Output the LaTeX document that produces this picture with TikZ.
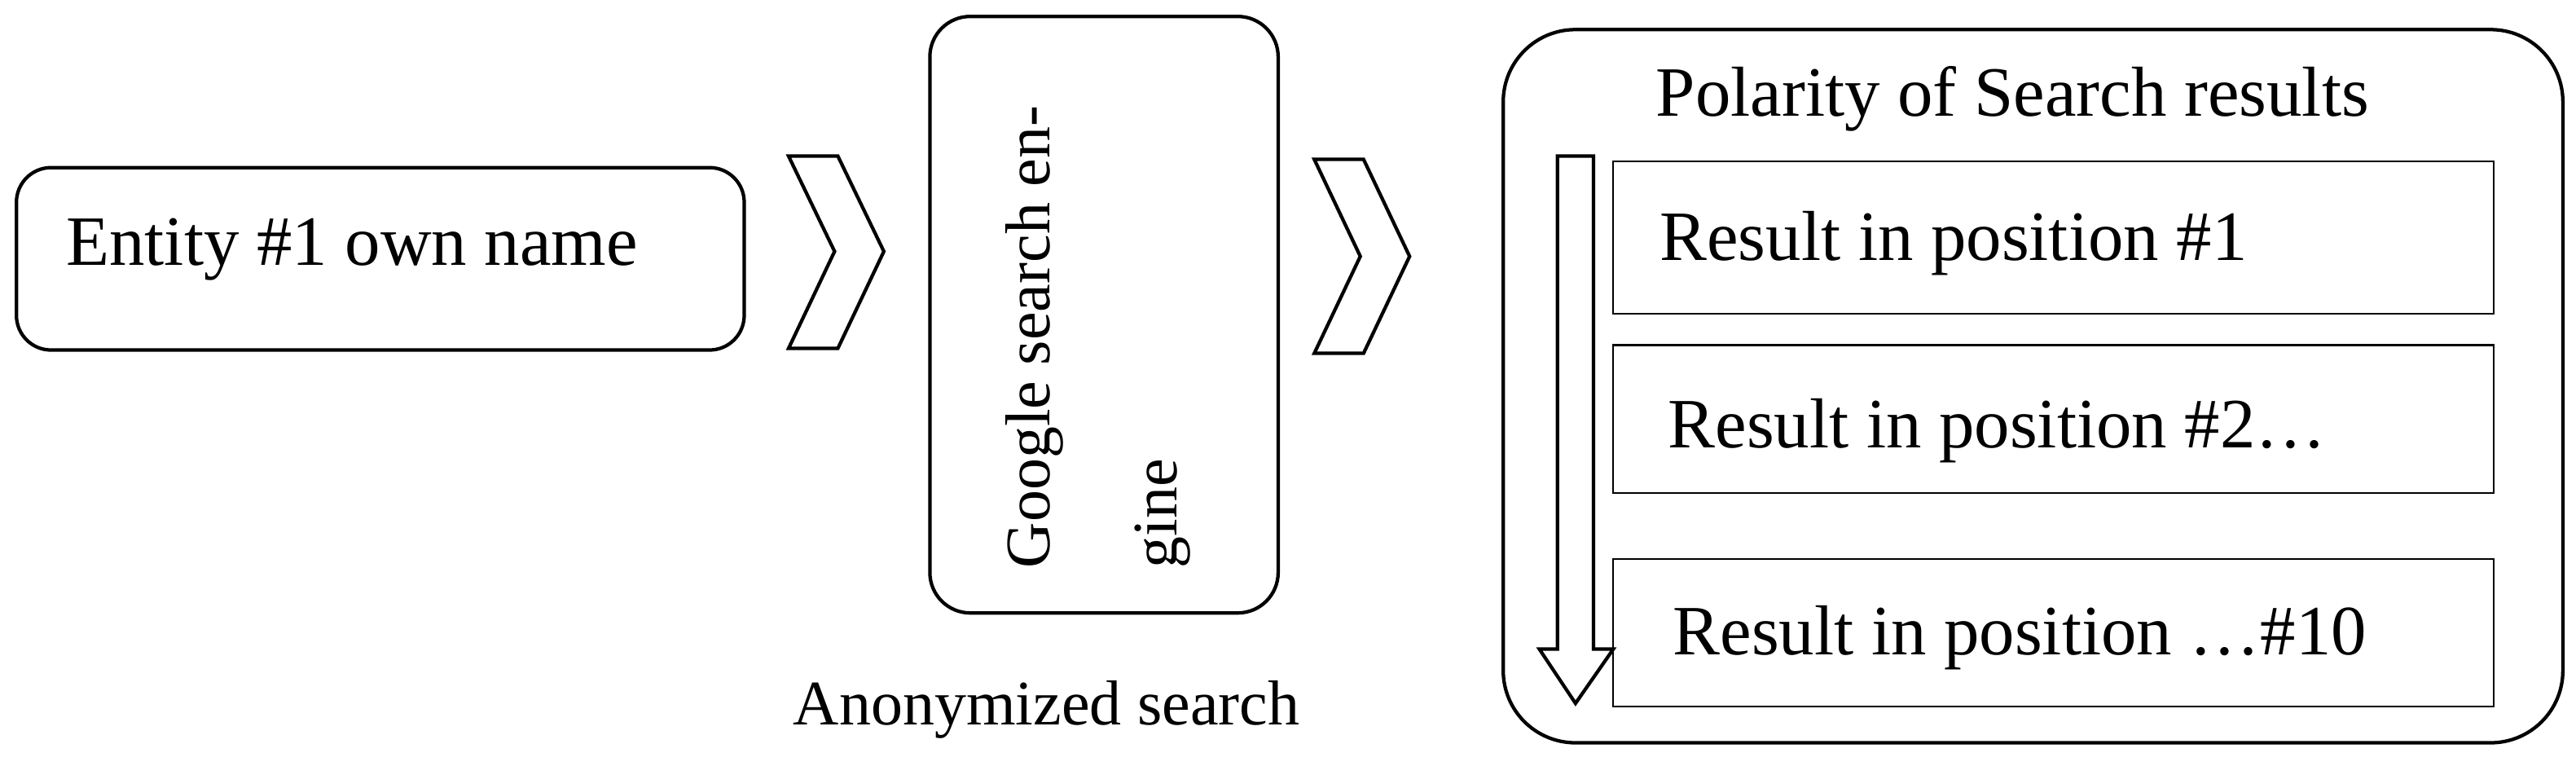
\documentclass[tikz,border=0pt]{standalone}
\usepackage{fontspec}
\setmainfont{Liberation Serif}
\usetikzlibrary{positioning}

\begin{document}
\begin{tikzpicture}[x=0.02cm,y=-0.02cm,{box/.style={draw=black,line width=1.2pt}},{chev/.style={draw=black,line width=1.2pt}},{lbl/.style={font=\fontsize{24.5}{29}\selectfont,inner sep=0pt}},{slbl/.style={font=\fontsize{22}{26}\selectfont,inner sep=0pt}}]
	%%frame
	\useasboundingbox (0,0) rectangle (1568,466);
	%%entity
	\draw [box,rounded corners=12pt] (10,102) rectangle (453,213);
	\node [lbl,anchor=west] (entity) at (40,152) {Entity \#1 own name};
	%%chevrons
	\draw [chev] (480,95)--(510,95)--(538,153)--(510,212)--(480,212)--(508,153)--cycle;
	\draw [chev] (800,97)--(830,97)--(858,156)--(830,215)--(800,215)--(828,156)--cycle;
	%%google
	\draw [box,rounded corners=14pt] (566,10) rectangle (778,373);
	\node [slbl,rotate=90,anchor=north west,align=left] (google) at (612,346) {Google search en-\\[18pt]gine};
	\node [slbl] (anon) at (637,432) {Anonymized search};
	%%results
	\draw [box,rounded corners=25pt] (915,18) rectangle (1560,452);
	\node [lbl] (polarity) at (1225,60) {Polarity of Search results};
	\draw [line width=0.6pt] (982,98) rectangle (1518,191);
	\draw [line width=0.6pt] (982,210) rectangle (1518,300);
	\draw [line width=0.6pt] (982,340) rectangle (1518,430);
	\node [lbl,anchor=west] (res1) at (1010,148) {Result in position \#1};
	\node [lbl,anchor=west] (res2) at (1015,262) {Result in position \#2\dots};
	\node [lbl,anchor=west] (res3) at (1018,388) {Result in position \dots\#10};
	%%order arrow
	\draw [chev] (948,95)--(970,95)--(970,395)--(982,395)--(959,428)--(937,395)--(948,395)--cycle;
\end{tikzpicture}
\end{document}
